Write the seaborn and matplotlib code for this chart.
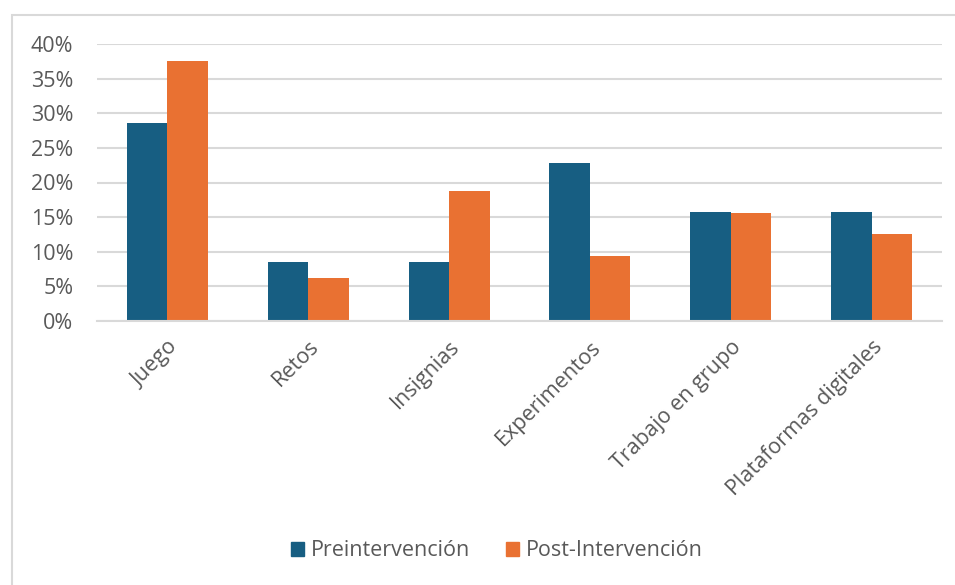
import matplotlib
matplotlib.use("Agg")
import matplotlib.pyplot as plt
import matplotlib.patches as mpatches
from matplotlib.ticker import PercentFormatter, MultipleLocator
import seaborn as sns
import pandas as pd

categorias = ["Juego", "Retos", "Insignias", "Experimentos",
              "Trabajo en grupo", "Plataformas digitales"]
pre = [0.2857, 0.0857, 0.0857, 0.2286, 0.1571, 0.1571]
post = [0.375, 0.0625, 0.1875, 0.09375, 0.15625, 0.125]
series = ["Preintervención", "Post-Intervención"]
colores = ["#175E82", "#E97132"]

df = pd.DataFrame({
    "Categoría": categorias * 2,
    "Valor": pre + post,
    "Serie": [series[0]] * len(categorias) + [series[1]] * len(categorias),
})

sns.set_theme(style="white")
plt.rcParams["font.family"] = ["Open Sans", "DejaVu Sans"]
texto = "#595959"
rejilla = "#D9D9D9"

fig = plt.figure(figsize=(9.55, 5.85), dpi=100)
W, H = 955, 585
ax = fig.add_axes([97 / W, 1 - 321 / H, (942 - 97) / W, (321 - 44) / H])

# chart frame
fig.add_artist(mpatches.Rectangle((12 / W, -0.05), 1.1, 1 - 15 / H + 0.05,
                                  transform=fig.transFigure, fill=False,
                                  edgecolor=rejilla, linewidth=1.5))

sns.barplot(data=df, x="Categoría", y="Valor", hue="Serie", hue_order=series,
            palette=colores, width=0.575, gap=0, saturation=1,
            edgecolor="none", ax=ax, legend=False, errorbar=None)

ax.set_ylim(0, 0.4)
ax.yaxis.set_major_locator(MultipleLocator(0.05))
ax.yaxis.set_major_formatter(PercentFormatter(1.0, decimals=0))
ax.grid(axis="y", color=rejilla, linewidth=1.5)
ax.set_axisbelow(True)
for s in ["top", "right", "left"]:
    ax.spines[s].set_visible(False)
ax.spines["bottom"].set_color(rejilla)
ax.spines["bottom"].set_linewidth(1.5)
ax.set_xlabel("")
ax.set_ylabel("")
ax.tick_params(axis="y", length=0, labelsize=15.5, colors=texto, pad=17)
ax.tick_params(axis="x", length=0, labelsize=15.5, colors=texto, pad=11)
plt.setp(ax.get_xticklabels(), rotation=45, ha="right", va="top",
         rotation_mode="anchor")

handles = [mpatches.Patch(color=c, label=s) for c, s in zip(colores, series)]
fig.legend(handles=handles, loc="center", bbox_to_anchor=(497 / W, 1 - 551 / H),
           ncol=2, frameon=False, fontsize=15.5, labelcolor=texto,
           handlelength=0.6, handleheight=0.65, handletextpad=0.3,
           columnspacing=1.7)

fig.savefig("out.png", dpi=100)
